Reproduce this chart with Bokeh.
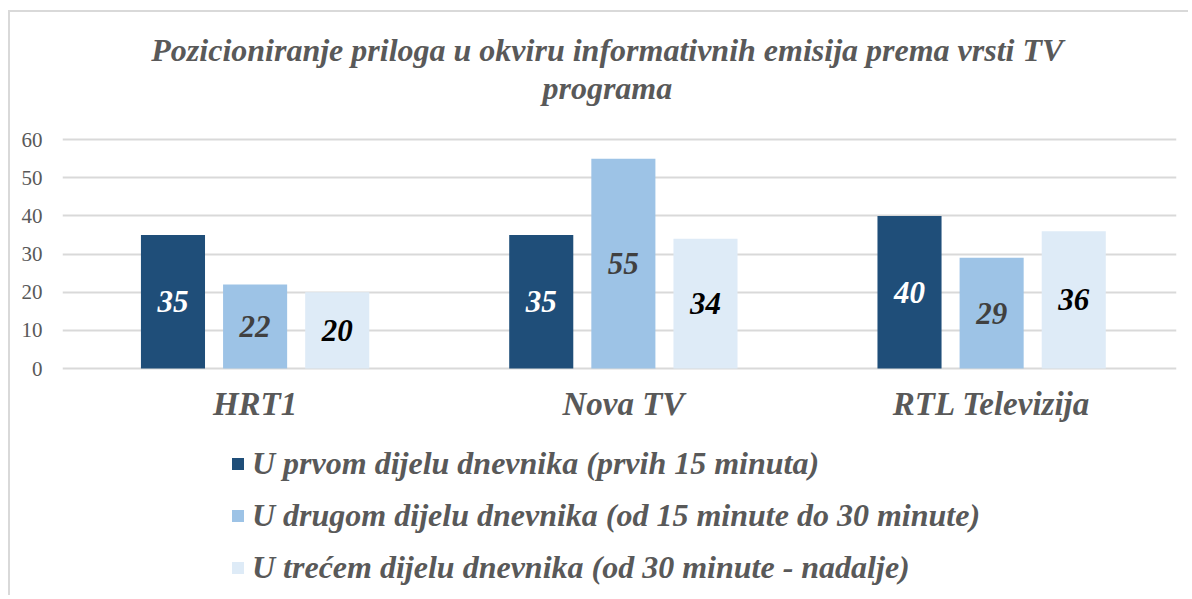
from bokeh.plotting import figure
from bokeh.models import Range1d, FixedTicker, Legend, LegendItem, ColumnDataSource
from bokeh.core.properties import value
from bokeh.embed import file_html
from bokeh.resources import INLINE

categories = ["HRT1", "Nova TV", "RTL Televizija"]
series_names = [
    "U prvom dijelu dnevnika (prvih 15 minuta)",
    "U drugom dijelu dnevnika (od 15 minute do 30 minute)",
    "U trećem dijelu dnevnika (od 30 minute - nadalje)",
]
prvi = [35, 35, 40]
drugi = [22, 55, 29]
treci = [20, 34, 36]
y_ticks = [0, 10, 20, 30, 40, 50, 60]
title_lines = ["Pozicioniranje priloga u okviru informativnih emisija prema vrsti TV", "programa"]

colors = ["#1f4e79", "#9dc3e6", "#deebf7"]
label_colors = ["#ffffff", "#404040", "#000000"]
FONT = "Liberation Serif"

X0, X1 = -0.523, 2.502
p = figure(width=1180, height=585, output_backend="svg", toolbar_location=None,
           x_range=Range1d(X0, X1), y_range=Range1d(-60, 93.3),
           min_border_left=52, min_border_right=14, min_border_top=0, min_border_bottom=0)
p.title.visible = False
p.styles = {"margin-left": "8px", "margin-top": "10px",
            "border-left": "2px solid #d9d9d9", "border-top": "2px solid #d9d9d9"}
p.outline_line_color = None
p.background_fill_color = "white"
p.border_fill_color = "white"

# title (two centred lines above the plotting area)
title_x = (X0 + X1) / 2 - 0.033
title_src = ColumnDataSource(dict(x=[title_x, title_x], y=[83.4, 73.6], t=title_lines))
p.text(x="x", y="y", text="t", source=title_src, text_align="center", text_baseline="middle",
       text_font=value(FONT), text_font_size="32px", text_font_style="bold italic", text_color="#595959")

offsets = [-0.223, 0.0, 0.223]
bar_w = 0.174
all_series = [prvi, drugi, treci]
items = []
for i, vals in enumerate(all_series):
    xs = [k + offsets[i] for k in range(len(categories))]
    src = ColumnDataSource(dict(x=xs, top=vals, mid=[v / 2 for v in vals], lab=[str(v) for v in vals]))
    r = p.vbar(x="x", top="top", bottom=0, width=bar_w, source=src, fill_color=colors[i], line_color=None)
    p.text(x="x", y="mid", text="lab", source=src, text_align="center", text_baseline="middle",
           text_font=value(FONT), text_font_size="31px", text_font_style="bold italic",
           text_color=label_colors[i])
    items.append(LegendItem(label=series_names[i], renderers=[r]))

# category labels under the bars
cat_src = ColumnDataSource(dict(x=list(range(len(categories))), y=[-9.3] * len(categories), t=categories))
p.text(x="x", y="y", text="t", source=cat_src, text_align="center", text_baseline="middle",
       text_font=value(FONT), text_font_size="33px", text_font_style="bold italic", text_color="#595959")

legend = Legend(items=items, location=(168, 11), orientation="vertical",
                label_text_font=FONT, label_text_font_size="32px", label_text_font_style="bold italic",
                label_text_color="#595959", glyph_width=15, glyph_height=15, label_height=36,
                spacing=15, padding=0, margin=0, label_standoff=7,
                border_line_color=None, background_fill_alpha=0)
p.add_layout(legend, "center")

p.xaxis.visible = False

p.yaxis.ticker = FixedTicker(ticks=y_ticks)
p.yaxis.axis_line_color = None
p.yaxis.major_tick_line_color = None
p.yaxis.minor_tick_line_color = None
p.yaxis.major_label_text_font = FONT
p.yaxis.major_label_text_font_size = "21px"
p.yaxis.major_label_text_color = "#595959"
p.yaxis.major_label_standoff = 14

p.xgrid.grid_line_color = None
p.ygrid.ticker = FixedTicker(ticks=y_ticks)
p.ygrid.grid_line_color = "#d9d9d9"
p.ygrid.grid_line_width = 2

open("out.html", "w").write(file_html(p, INLINE))
